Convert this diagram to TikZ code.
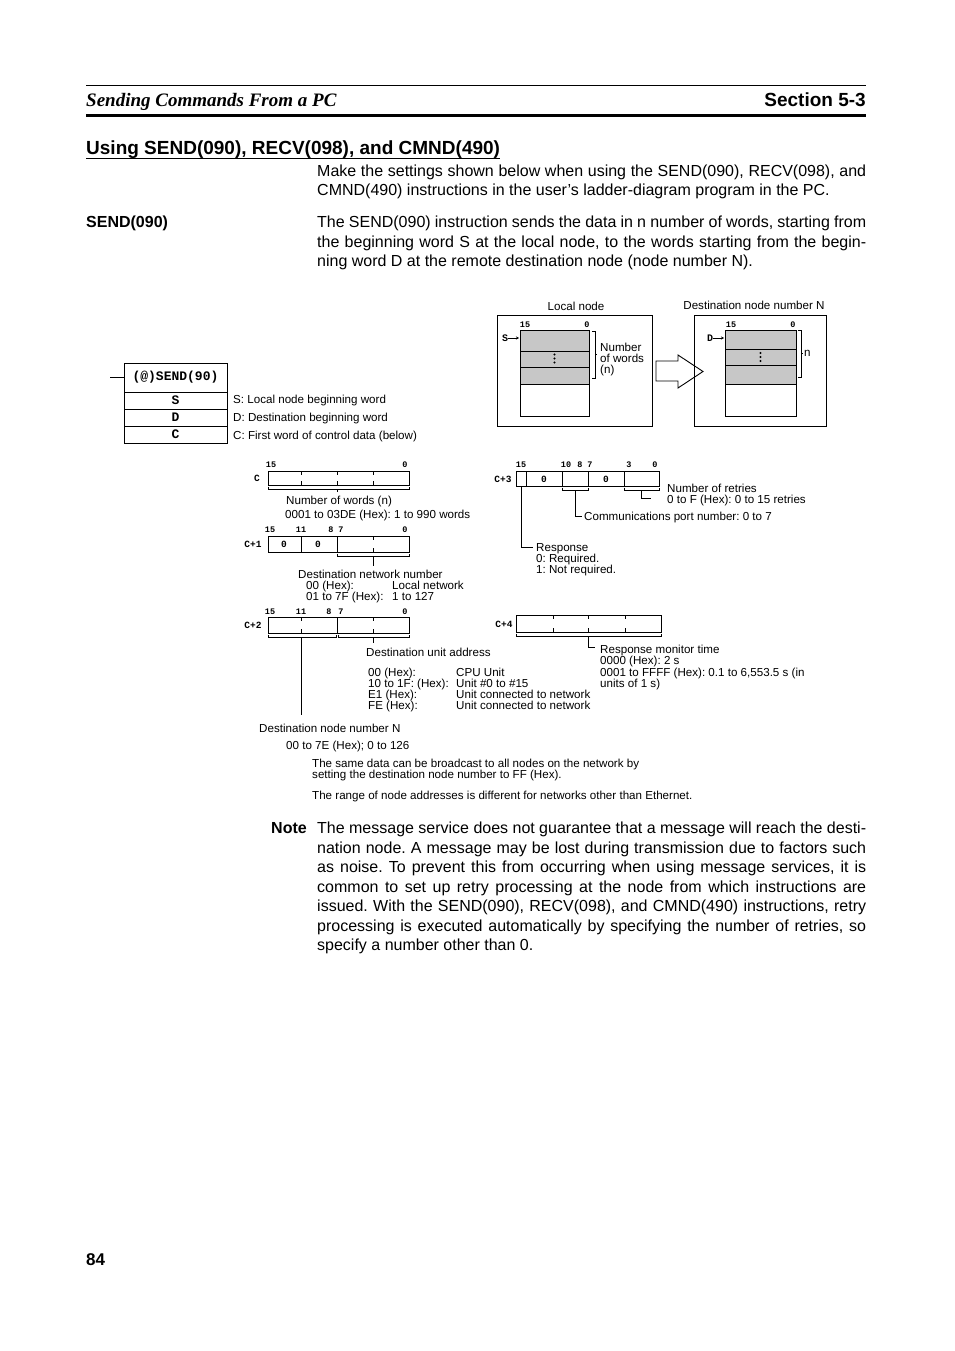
\documentclass[tikz,border=0pt]{standalone}
\usepackage{fontspec}
\usetikzlibrary{arrows.meta}
\setmainfont{Liberation Sans}
\newfontfamily\hdserif{Liberation Serif}
\newfontfamily\bitfont{Liberation Mono}
\frenchspacing
\newcommand\jl[1]{\makebox[549pt][s]{#1}}
\newcommand\tk[3]{\draw[fld] (#1,#2) -- (#1,#2+4); \draw[fld] (#1,#3-4) -- (#1,#3);}
\newcommand\hbr[3]{\draw[lead] (#1,#3-2.5) -- (#1,#3) -- (#2,#3) -- (#2,#3-2.5);}
\tikzset{
  body/.style={anchor=base west, inner sep=0pt, font=\fontsize{16}{19.5}\selectfont},
  boldbody/.style={anchor=base west, inner sep=0pt, font=\bfseries\fontsize{16}{19.5}\selectfont},
  small/.style={anchor=base west, inner sep=0pt, font=\fontsize{11.6}{13}\selectfont},
  bits/.style={anchor=base, inner sep=0pt, font=\bitfont\bfseries\fontsize{8.5}{9}\selectfont},
  bval/.style={anchor=center, inner sep=0pt, font=\bitfont\bfseries\fontsize{9.5}{10}\selectfont},
  ladtxt/.style={anchor=center, inner sep=0pt, font=\bitfont\bfseries\fontsize{13}{14}\selectfont},
  fld/.style={draw, line width=0.9pt},
  lead/.style={line width=0.7pt},
  mem/.style={draw, line width=0.9pt},
  gray cell/.style={fill=black!22, draw, line width=0.9pt},
}
\begin{document}
\begin{tikzpicture}[x=1pt,y=-1pt]
\fill[white] (0,0) rectangle (954,1351);
\useasboundingbox (0,0) rectangle (954,1351);

% ---------- header ----------
\draw[line width=0.8pt] (86,85) -- (866,85);
\node[anchor=base west, inner sep=0pt, font=\hdserif\bfseries\itshape\fontsize{19}{22}\selectfont] (hdl) at (86,107) {Sending Commands From a PC};
\node[anchor=base east, inner sep=0pt, font=\bfseries\fontsize{19}{22}\selectfont] (hdr) at (866,107) {Section 5-3};
\draw[line width=3.5pt] (86,115.5) -- (866,115.5);

\node[anchor=base west, inner sep=0pt, font=\bfseries\fontsize{19}{22}\selectfont] (head) at (86,154.5) {Using SEND(090), RECV(098), and CMND(490)};
\draw[line width=1.1pt] ([yshift=-3.8pt]head.base west) -- ([yshift=-3.8pt]head.base east);

\node[body] (p1a) at (317,176.5) {\jl{Make the settings shown below when using the SEND(090), RECV(098), and}};
\node[body] (p1b) at (317,196) {CMND(490) instructions in the user’s ladder-diagram program in the PC.};

\node[boldbody] (sendlbl) at (86,227.5) {SEND(090)};
\node[body] (p2a) at (317,227.5) {\jl{The SEND(090) instruction sends the data in n number of words, starting from}};
\node[body] (p2b) at (317,247) {\jl{the beginning word S at the local node, to the words starting from the begin-}};
\node[body] (p2c) at (317,266.5) {ning word D at the remote destination node (node number N).};

% ---------- local / destination node ----------
\node[small, anchor=base] (lnlbl) at (576,310) {Local node};
\draw[mem] (497,315) rectangle (652,426);
\node[bits] (l15) at (525,327) {15};
\node[bits] (l0) at (587,327) {0};
\draw[gray cell] (520,330) rectangle (589,351);
\draw[gray cell] (520,351) rectangle (589,367);
\draw[gray cell] (520,367) rectangle (589,384);
\draw[mem] (520,384) rectangle (589,416);
\foreach \yy in {354.5,358.5,362.5} \fill (554.5,\yy) circle (1.1pt);
\node[bits, anchor=center, font=\bitfont\bfseries\fontsize{10}{10}\selectfont] (lS) at (505,338) {S};
\draw[-{Stealth[length=3pt,width=3pt]}, line width=0.7pt] (lS.east) -- (519,338);
\draw[lead] (592,331) -- (595,331) -- (595,378) -- (592,378);
\draw[lead] (595,354) -- (597,354);
\node[small] (nw1) at (600,351) {Number};
\node[small] (nw2) at (600,362) {of words};
\node[small] (nw3) at (600,373) {(n)};

\draw[line width=0.9pt, fill=white] (656,361) -- (678,361) -- (678,355) -- (703,371.5) -- (678,388) -- (678,381) -- (656,381) -- cycle;

\node[small, anchor=base] (dnlbl) at (754,309) {Destination node number N};
\draw[mem] (694,315) rectangle (826,426);
\node[bits] (d15) at (731,327) {15};
\node[bits] (d0) at (793,327) {0};
\draw[gray cell] (725,330) rectangle (796,349);
\draw[gray cell] (725,349) rectangle (796,365);
\draw[gray cell] (725,365) rectangle (796,384);
\draw[mem] (725,384) rectangle (796,416);
\foreach \yy in {353,357,361} \fill (760.5,\yy) circle (1.1pt);
\node[bits, anchor=center, font=\bitfont\bfseries\fontsize{10}{10}\selectfont] (dD) at (710,338) {D};
\draw[-{Stealth[length=3pt,width=3pt]}, line width=0.7pt] (dD.east) -- (724,338);
\draw[lead] (798,330) -- (801,330) -- (801,377) -- (798,377);
\draw[lead] (801,353) -- (803,353);
\node[small] (nn) at (804,356) {n};

% ---------- ladder instruction ----------
\draw[line width=0.9pt] (110,377.5) -- (124,377.5);
\draw[mem] (124,363) rectangle (227,443);
\draw[mem] (124,392) -- (227,392);
\draw[mem] (124,409) -- (227,409);
\draw[mem] (124,426) -- (227,426);
\node[ladtxt] (lsend) at (175.5,377.5) {(@)SEND(90)};
\node[ladtxt] (lS2) at (175.5,400.5) {S};
\node[ladtxt] (lD2) at (175.5,417.5) {D};
\node[ladtxt] (lC2) at (175.5,434.5) {C};
\node[small] (sS) at (233,403) {S: Local node beginning word};
\node[small] (sD) at (233,421) {D: Destination beginning word};
\node[small] (sC) at (233,439) {C: First word of control data (below)};

% ---------- C ----------
\node[bval] (cC) at (257,478) {C};
\node[bits] (c15) at (271,467) {15};
\node[bits] (c0) at (405,467) {0};
\draw[fld] (268,471) rectangle (409,485);
\tk{301}{471}{485} \tk{337}{471}{485} \tk{373}{471}{485}
\hbr{268}{409}{489}
\draw[lead] (337,489) -- (337,492);
\node[small] (cw1) at (286,504) {Number of words (n)};
\node[small] (cw2) at (285,518) {0001 to 03DE (Hex): 1 to 990 words};

% ---------- C+1 ----------
\node[bval] (c1) at (253,544) {C+1};
\node[bits] (c1a) at (270,532) {15};
\node[bits] (c1b) at (301,532) {11};
\node[bits] (c1c) at (331,532) {8};
\node[bits] (c1d) at (341,532) {7};
\node[bits] (c1e) at (405,532) {0};
\draw[fld] (268,536) rectangle (409,552);
\draw[fld] (301,536) -- (301,552);
\draw[fld] (337,536) -- (337,552);
\tk{373}{536}{552}
\node[bval] (c1v1) at (284,544) {0};
\node[bval] (c1v2) at (318,544) {0};
\hbr{337}{409}{556}
\draw[lead] (373,556) -- (373,566);
\node[small] (dn1) at (298,578) {Destination network number};
\node[small] (dn2) at (306,589) {00 (Hex):};
\node[small] (dn3) at (392,589) {Local network};
\node[small] (dn4) at (306,600) {01 to 7F (Hex):};
\node[small] (dn5) at (392,600) {1 to 127};

% ---------- C+2 ----------
\node[bval] (c2) at (253,625) {C+2};
\node[bits] (c2a) at (270,614) {15};
\node[bits] (c2b) at (301,614) {11};
\node[bits] (c2c) at (329,614) {8};
\node[bits] (c2d) at (341,614) {7};
\node[bits] (c2e) at (405,614) {0};
\draw[fld] (268,617) rectangle (409,633);
\draw[fld] (337,617) -- (337,633);
\tk{301}{617}{633} \tk{373}{617}{633}
\hbr{268}{336}{637}
\hbr{338}{409}{637}
\draw[lead] (301,637) -- (301,715);
\draw[lead] (373,637) -- (373,643);
\node[small] (du0) at (366,656) {Destination unit address};
\node[small] (du1) at (368,676) {00 (Hex):};
\node[small] (du2) at (368,687) {10 to 1F: (Hex):};
\node[small] (du3) at (368,698) {E1 (Hex):};
\node[small] (du4) at (368,709) {FE (Hex):};
\node[small] (du5) at (456,676) {CPU Unit};
\node[small] (du6) at (456,687) {Unit \#0 to \#15};
\node[small] (du7) at (456,698) {Unit connected to network};
\node[small] (du8) at (456,709) {Unit connected to network};
\node[small] (nd1) at (259,732) {Destination node number N};
\node[small] (nd2) at (286,749) {00 to 7E (Hex); 0 to 126};
\node[small] (nd3) at (312,767) {The same data can be broadcast to all nodes on the network by};
\node[small] (nd4) at (312,778) {setting the destination node number to FF (Hex).};
\node[small] (nd5) at (312,799) {The range of node addresses is different for networks other than Ethernet.};

% ---------- C+3 ----------
\node[bval] (c3) at (503,479) {C+3};
\node[bits] (c3a) at (521,467) {15};
\node[bits] (c3b) at (566,467) {10};
\node[bits] (c3c) at (580,467) {8};
\node[bits] (c3d) at (590,467) {7};
\node[bits] (c3e) at (629,467) {3};
\node[bits] (c3f) at (655,467) {0};
\draw[fld] (516,471) rectangle (659,486);
\foreach \xx in {526,562,588,624} \draw[fld] (\xx,471) -- (\xx,486);
\node[bval] (c3v1) at (544,479) {0};
\node[bval] (c3v2) at (606,479) {0};
\draw[lead] (521,486) -- (521,547) -- (533,547);
\node[small] (rs1) at (536,551) {Response};
\node[small] (rs2) at (536,562) {0: Required.};
\node[small] (rs3) at (536,573) {1: Not required.};
\hbr{562}{588}{490}
\draw[lead] (575,490) -- (575,516) -- (582,516);
\node[small] (cp) at (584,520) {Communications port number: 0 to 7};
\hbr{624}{659}{490}
\draw[lead] (641.5,490) -- (641.5,498) -- (651,498);
\node[small] (nr1) at (667,492) {Number of retries};
\node[small] (nr2) at (667,503) {0 to F (Hex): 0 to 15 retries};

% ---------- C+4 ----------
\node[bval] (c4) at (504,624) {C+4};
\draw[fld] (516,615) rectangle (661,632);
\tk{553}{615}{632} \tk{588}{615}{632} \tk{625}{615}{632}
\hbr{516}{661}{636}
\draw[lead] (588,636) -- (588,647) -- (595,647);
\node[small] (rm1) at (600,653) {Response monitor time};
\node[small] (rm2) at (600,664) {0000 (Hex): 2 s};
\node[small] (rm3) at (600,676) {0001 to FFFF (Hex): 0.1 to 6,553.5 s (in};
\node[small] (rm4) at (600,687) {units of 1 s)};

% ---------- note ----------
\node[boldbody] (note) at (271,833.5) {Note};
\node[body] (n1) at (317,833.5) {\jl{The message service does not guarantee that a message will reach the desti-}};
\node[body] (n2) at (317,853) {\jl{nation node. A message may be lost during transmission due to factors such}};
\node[body] (n3) at (317,872.5) {\jl{as noise. To prevent this from occurring when using message services, it is}};
\node[body] (n4) at (317,892) {\jl{common to set up retry processing at the node from which instructions are}};
\node[body] (n5) at (317,911.5) {\jl{issued. With the SEND(090), RECV(098), and CMND(490) instructions, retry}};
\node[body] (n6) at (317,931) {\jl{processing is executed automatically by specifying the number of retries, so}};
\node[body] (n7) at (317,950.5) {specify a number other than 0.};

\node[anchor=base west, inner sep=0pt, font=\bfseries\fontsize{17}{20}\selectfont] (pg) at (86,1265) {84};
\end{tikzpicture}
\end{document}
